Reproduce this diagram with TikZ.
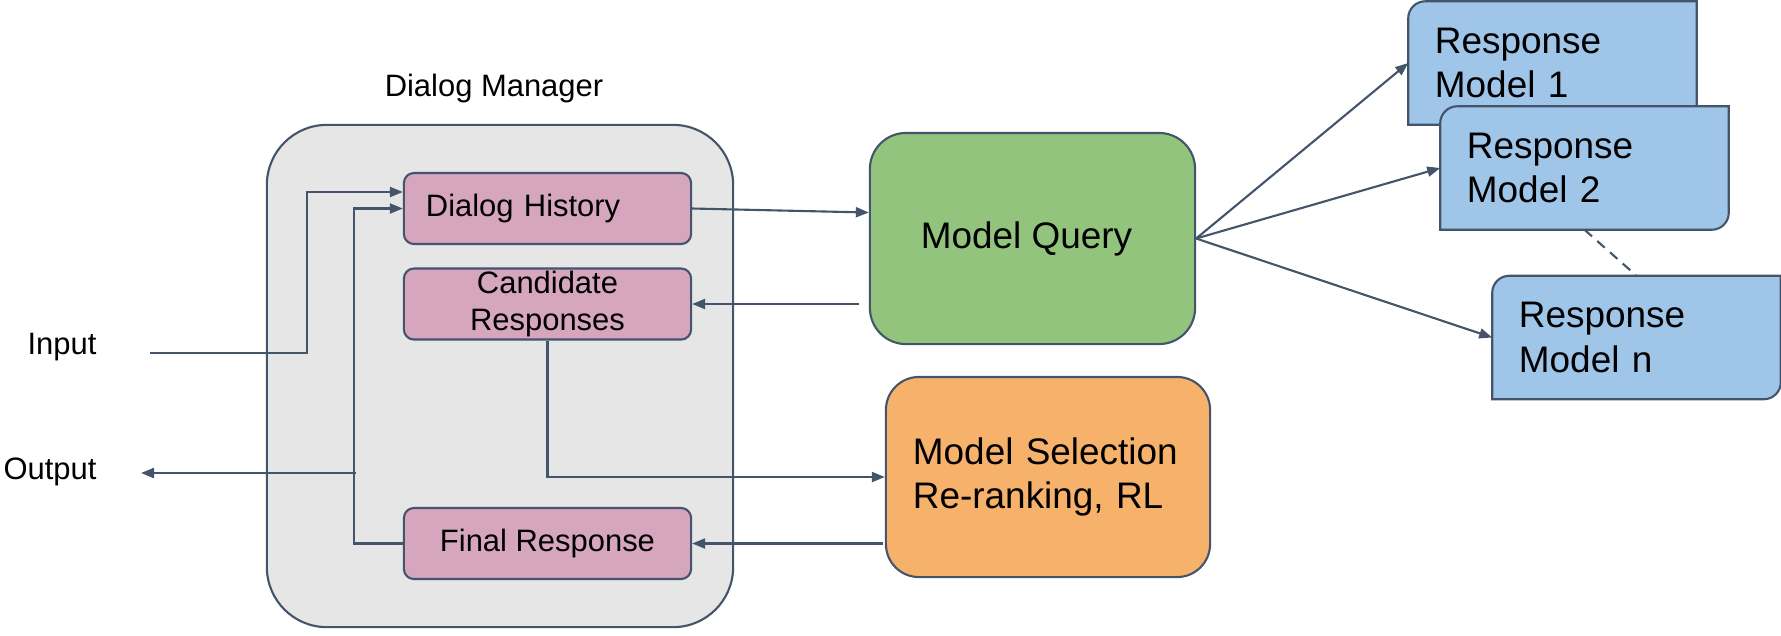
\documentclass[tikz,border=0pt]{standalone}
\usepackage{fontspec}
\setmainfont{Liberation Sans}
\usepackage{xcolor}
\usepackage{tikz}
\usetikzlibrary{arrows.meta,backgrounds}

\definecolor{edge}{HTML}{44546A}
\definecolor{dmgray}{HTML}{E6E6E6}
\definecolor{pinkbox}{HTML}{D5A6BD}
\definecolor{querygreen}{HTML}{93C47D}
\definecolor{selorange}{HTML}{F6B26B}
\definecolor{respblue}{HTML}{9FC5E8}

\tikzset{
  smalltxt/.style={font=\fontsize{8.8}{10.7}\selectfont},
  bigtxt/.style={font=\fontsize{10.5}{12.6}\selectfont},
  dmbox/.style={draw=edge, fill=dmgray, line width=0.6pt, rounded corners=0.6cm,
    minimum width=4.66cm, minimum height=5.02cm},
  pinkstep/.style={draw=edge, fill=pinkbox, line width=0.6pt, rounded corners=0.1cm,
    minimum width=2.87cm, minimum height=0.71cm, inner sep=0pt, smalltxt, align=center},
  respbox/.style={bigtxt, text width=2.35cm, inner xsep=0.26cm, inner ysep=0pt,
    minimum height=1.22cm, align=left},
  respshape/.style={draw=edge, fill=respblue, line width=0.6pt},
  arr/.style={draw=edge, line width=0.6pt, -{Triangle[length=0.13cm,width=0.1cm]}},
  conn/.style={draw=edge, line width=0.6pt}
}

\begin{document}
\begin{tikzpicture}[x=0.01cm, y=-0.01cm]
\useasboundingbox (0,0) rectangle (1781,635);

% dialog manager
\node[smalltxt] (dmlabel) at (494,88) {Dialog Manager};
\node[dmbox] (dm) at (500,376) {};
\node[pinkstep, text width=2.43cm, inner xsep=0.22cm, align=left] (hist) at (547.5,208.5) {Dialog History};
\node[pinkstep] (cand) at (547.5,304) {\raisebox{-0.02cm}{\parbox{2.8cm}{\centering Candidate\\Responses}}};
\node[pinkstep] (final) at (547.5,543.5) {Final Response};

\node[smalltxt] (input) at (62,347) {Input};
\node[smalltxt] (output) at (50,472) {Output};
\coordinate (in0) at (150,353);
\coordinate (out0) at (141,473);
\coordinate (fb) at (354,473);

% query and selection
\node[draw=edge, fill=querygreen, line width=0.6pt, rounded corners=0.36cm, bigtxt,
  minimum width=3.25cm, minimum height=2.11cm] (mq) at (1032.5,238.5) {\hspace*{-0.12cm}Model Query};
\node[draw=edge, fill=selorange, line width=0.6pt, rounded corners=0.33cm, bigtxt,
  text width=2.7cm, inner xsep=0.27cm, align=left, minimum height=2.0cm] (ms) at (1048,477)
  {\raisebox{-0.06cm}{\parbox{2.7cm}{Model Selection\\Re-ranking, RL}}};

% response models
\node[respbox] (rm1) at (1552.5,63) {Response\\Model 1};
\node[respbox] (rm2) at (1584.5,168) {Response\\Model 2};
\node[respbox] (rmn) at (1636.5,337.5) {Response\\Model n};
\begin{scope}[on background layer]
\filldraw[respshape] (rm1.south west) -- ([yshift=-0.17cm]rm1.north west) arc[start angle=180,end angle=90,radius=0.17cm] -- (rm1.north east) -- ([yshift=0.17cm]rm1.south east) arc[start angle=0,end angle=-90,radius=0.17cm] -- cycle;
\filldraw[respshape] (rm2.south west) -- ([yshift=-0.17cm]rm2.north west) arc[start angle=180,end angle=90,radius=0.17cm] -- (rm2.north east) -- ([yshift=0.17cm]rm2.south east) arc[start angle=0,end angle=-90,radius=0.17cm] -- cycle;
\filldraw[respshape] (rmn.south west) -- ([yshift=-0.17cm]rmn.north west) arc[start angle=180,end angle=90,radius=0.17cm] -- (rmn.north east) -- ([yshift=0.17cm]rmn.south east) arc[start angle=0,end angle=-90,radius=0.17cm] -- cycle;
\end{scope}

% connectors
\draw[arr] (in0) -| ([xshift=-0.96cm,yshift=0.165cm]hist.west) -- ([yshift=0.165cm]hist.west);
\draw[arr] (final.west) -| (fb) |- (hist.west);
\draw[arr] ([xshift=0.02cm]fb) -- (out0);
\draw[arr] (hist.east) -- ([yshift=-0.04cm]hist.east -| mq.west);
\draw[arr] ([xshift=-0.1cm]cand.east -| mq.west) -- (cand.east);
\draw[arr] (cand.south) |- (ms.west);
\draw[arr] ([xshift=-0.02cm]final.east -| ms.west) -- (final.east);
\draw[arr] (mq.east) -- (rm1.west);
\draw[arr] (mq.east) -- (rm2.west);
\draw[arr] (mq.east) -- (rmn.west);
\draw[conn, dashed, dash pattern=on 0.1cm off 0.07cm] (rm2.south) -- (rmn.north);
\end{tikzpicture}
\end{document}
